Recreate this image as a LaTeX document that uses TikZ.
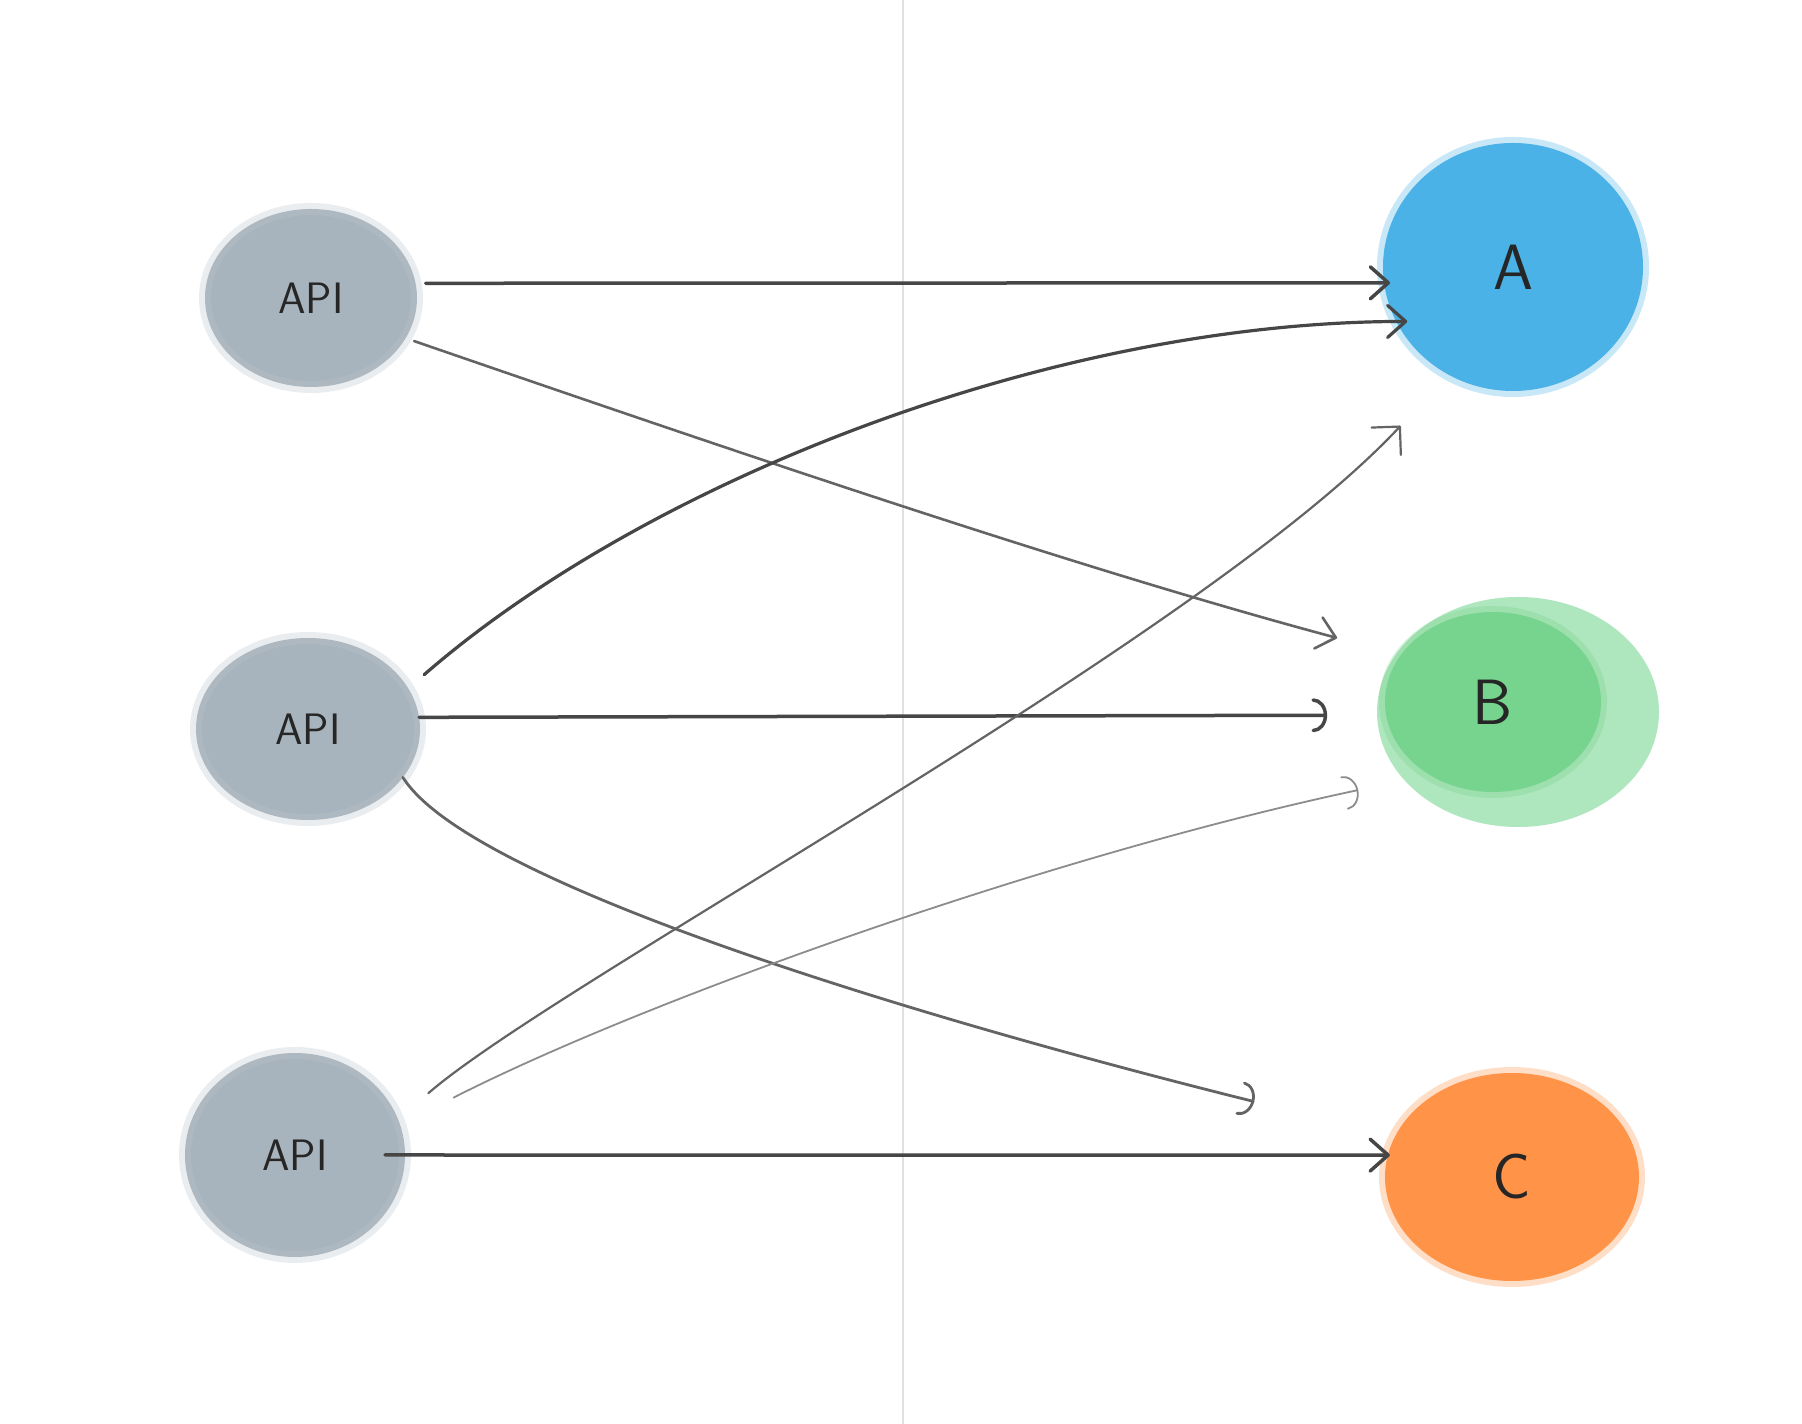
\documentclass[tikz,border=0pt]{standalone}
\usepackage{tikz}
\usetikzlibrary{shapes.geometric,arrows.meta}

\definecolor{apigray}{RGB}{168,180,189}
\definecolor{apiedge}{RGB}{186,196,204}
\definecolor{ablue}{RGB}{74,178,230}
\definecolor{bgreen}{RGB}{118,212,142}
\definecolor{bgreenlight}{RGB}{160,226,178}
\definecolor{corange}{RGB}{255,148,72}
\definecolor{inkdark}{RGB}{70,70,70}
\definecolor{inkmid}{RGB}{100,100,100}
\definecolor{inklight}{RGB}{140,140,140}
\definecolor{divider}{RGB}{222,226,230}

\begin{document}
\begin{tikzpicture}[x=1pt,y=1pt,
        blob/.style={ellipse,inner sep=0pt,outer sep=0pt,line width=12pt,draw opacity=0.3,
            text=black!85,font=\sffamily\fontsize{64}{70}\selectfont},
        api/.style={blob,fill=apigray,draw=apiedge,font=\sffamily\fontsize{44}{50}\selectfont},
        link/.style={line cap=round},
        barb/.style={-{Straight Barb[length=18pt,width=32pt,round]}},
        corner/.style={-{Straight Barb[length=20pt,width=40pt,round]}},
        hook/.style={-{Arc Barb[length=14pt,width=34pt,round]}}]
        \fill[white] (0,0) rectangle (1802,1424);
        \useasboundingbox (0,0) rectangle (1802,1424);
        % divider
        \draw[divider,line width=2pt] (903,0) -- (903,1424);
        % sources
        \node[api,minimum width=212pt,minimum height=178pt] (api1) at (311,1126) {API};
        \node[api,minimum width=224pt,minimum height=182pt] (api2) at (308,695) {API};
        \node[api,minimum width=220pt,minimum height=204pt] (api3) at (295,269) {API};
        % targets
        \node[blob,fill=ablue,draw=ablue,minimum width=260pt,minimum height=248pt] (A) at (1513,1157) {A};
        \fill[bgreenlight,opacity=0.85] (1518,712) ellipse [x radius=141pt,y radius=115pt];
        \node[blob,fill=bgreen,draw=bgreen,minimum width=216pt,minimum height=180pt] (B) at (1493,722) {B};
        \node[blob,fill=corange,draw=corange,minimum width=254pt,minimum height=208pt] (C) at (1512,247) {C};
        % links
        \draw[link,barb,inkdark,line width=3.5pt,shorten <=10pt,shorten >=-6pt] (api1.8) -- (A.187);
        \draw[link,barb,inkmid,line width=2.6pt,shorten <=9pt,shorten >=66pt] (api1.-23) .. controls +(-19:340) and +(165:340) .. (B.153);
        \draw[link,barb,inkdark,line width=3.2pt,shorten <=21pt,shorten >=-11pt] (api2.22) .. controls +(41:316) and +(180:344) .. (A.205);
        \draw[link,hook,inkdark,line width=3.5pt,shorten >=59pt] (api2.6) -- (B.187);
        \draw[link,hook,inkmid,line width=2.8pt] (api2.-27) .. controls +(-58:122) and +(166:508) .. (C.161) [shorten >=145pt];
        \draw[link,corner,inkmid,line width=2.2pt,shorten <=40pt,shorten >=70pt] (api3.19) .. controls +(41:211) and +(227:361) .. (A.239);
        \draw[link,hook,inklight,line width=1.8pt,shorten <=60pt,shorten >=73pt] (api3.16) .. controls +(27:276) and +(192:387) .. (B.229);
        \draw[link,barb,inkdark,line width=3.5pt,shorten <=-20pt,shorten >=-2pt] (api3.east) -- (C.170);
\end{tikzpicture}
\end{document}
